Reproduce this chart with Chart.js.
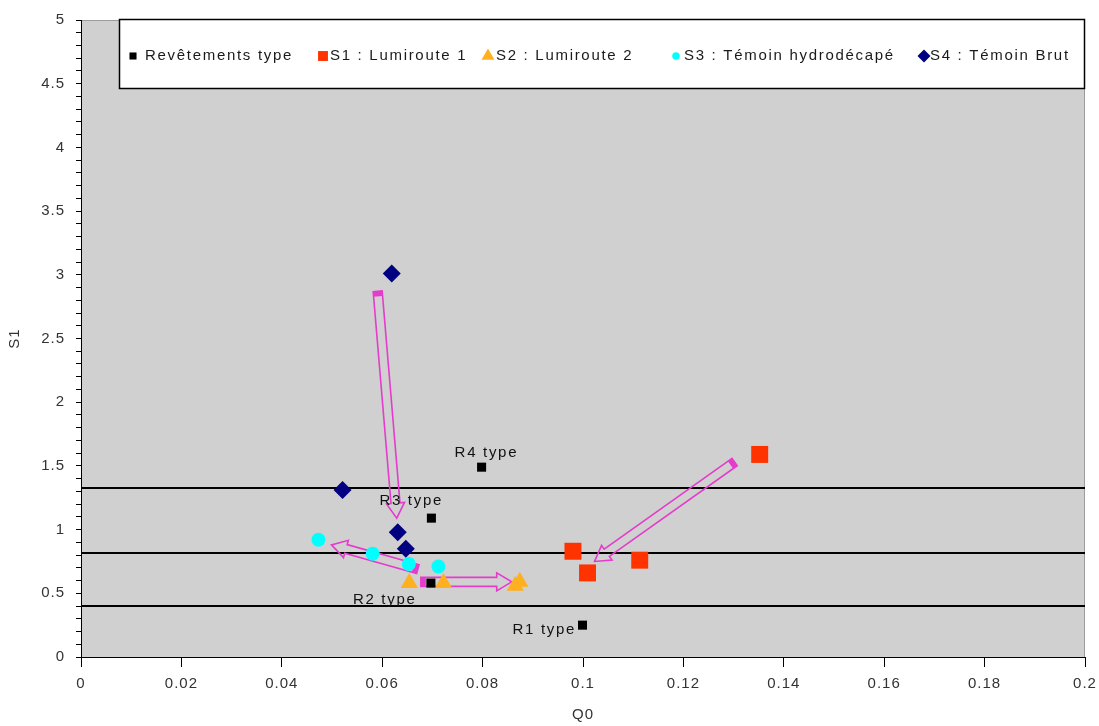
<!DOCTYPE html>
<html>
<head>
    <meta charset="UTF-8">
    <title>S1 / Q0</title>
    <script src="https://cdn.jsdelivr.net/npm/chart.js"></script>
    <style>
        html, body { margin: 0; padding: 0; background: #ffffff; }
        .chart-container { position: relative; width: 1099px; height: 726px; }
    </style>
</head>
<body>
    <div class="chart-container"><canvas id="s1Chart"></canvas></div>
    <script>
        // Revêtements type (reference surfaces)
        var typeNames = ['R1 type', 'R2 type', 'R3 type', 'R4 type'];
        var typeQ0 = [0.0999, 0.0697, 0.0698, 0.0798];
        var typeS1 = [0.25, 0.58, 1.09, 1.49];

        // S1 : Lumiroute 1
        var lum1Q0 = [0.1352, 0.0980, 0.1009, 0.1113];
        var lum1S1 = [1.59, 0.83, 0.66, 0.76];

        // S2 : Lumiroute 2
        var lum2Q0 = [0.0654, 0.0722, 0.0865, 0.0874];
        var lum2S1 = [0.58, 0.58, 0.56, 0.59];

        // S3 : Témoin hydrodécapé
        var hydroQ0 = [0.0473, 0.0581, 0.0653, 0.0712];
        var hydroS1 = [0.92, 0.81, 0.73, 0.71];

        // S4 : Témoin Brut
        var brutQ0 = [0.0619, 0.0521, 0.0631, 0.0647];
        var brutS1 = [3.01, 1.31, 0.98, 0.85];

        // class limits (horizontal lines)
        var limitsS1 = [0.40, 0.82, 1.33];

        // evolution arrows (from -> to)
        var arrowFromQ0 = [0.0591, 0.0671, 0.0677, 0.1302];
        var arrowFromS1 = [2.87, 0.69, 0.59, 1.53];
        var arrowToQ0 = [0.0629, 0.0499, 0.0858, 0.1023];
        var arrowToS1 = [1.09, 0.88, 0.59, 0.75];

        var xTickStep = 0.02;
        var yTickStep = 0.1;
        var yLabelStep = 0.5;

        function pairs(xs, ys) {
            return xs.map(function (x, i) { return { x: x, y: ys[i] }; });
        }

        var FONT = "'Liberation Sans', Arial, sans-serif";

        // plot background + letter spacing for the canvas texts
        var backdrop = {
            id: 'backdrop',
            beforeDraw: function (chart) {
                var ctx = chart.ctx, a = chart.chartArea;
                ctx.letterSpacing = '1px';
                ctx.save();
                ctx.fillStyle = '#d0d0d0';
                ctx.fillRect(a.left, a.top, a.right - a.left, a.bottom - a.top);
                ctx.strokeStyle = '#9c9c9c';
                ctx.lineWidth = 1;
                ctx.beginPath();
                ctx.moveTo(a.left, a.top + 0.5);
                ctx.lineTo(a.right - 0.5, a.top + 0.5);
                ctx.lineTo(a.right - 0.5, a.bottom);
                ctx.stroke();
                ctx.restore();
            }
        };

        function drawBlockArrow(ctx, x1, y1, x2, y2) {
            var dx = x2 - x1, dy = y2 - y1;
            var len = Math.sqrt(dx * dx + dy * dy);
            var ux = dx / len, uy = dy / len, nx = -uy, ny = ux;
            var sw = 4.5, hw = 9, hl = 15;
            var bx = x2 - ux * hl, by = y2 - uy * hl;
            var pts = [
                [x1 + nx * sw, y1 + ny * sw],
                [bx + nx * sw, by + ny * sw],
                [bx + nx * hw, by + ny * hw],
                [x2, y2],
                [bx - nx * hw, by - ny * hw],
                [bx - nx * sw, by - ny * sw],
                [x1 - nx * sw, y1 - ny * sw]
            ];
            ctx.beginPath();
            ctx.moveTo(pts[0][0], pts[0][1]);
            for (var i = 1; i < pts.length; i++) ctx.lineTo(pts[i][0], pts[i][1]);
            ctx.closePath();
            ctx.stroke();
            // small filled tail
            ctx.beginPath();
            ctx.moveTo(x1 + nx * sw, y1 + ny * sw);
            ctx.lineTo(x1 + nx * sw + ux * 5, y1 + ny * sw + uy * 5);
            ctx.lineTo(x1 - nx * sw + ux * 5, y1 - ny * sw + uy * 5);
            ctx.lineTo(x1 - nx * sw, y1 - ny * sw);
            ctx.closePath();
            ctx.fill();
        }

        // limit lines and arrows, under the points
        var underlay = {
            id: 'underlay',
            beforeDatasetsDraw: function (chart) {
                var ctx = chart.ctx, a = chart.chartArea;
                var xs = chart.scales.x, ys = chart.scales.y;
                ctx.save();
                ctx.strokeStyle = '#000000';
                ctx.lineWidth = 2;
                limitsS1.forEach(function (v) {
                    var py = Math.round(ys.getPixelForValue(v));
                    ctx.beginPath();
                    ctx.moveTo(a.left, py);
                    ctx.lineTo(a.right, py);
                    ctx.stroke();
                });
                ctx.strokeStyle = '#e43ccc';
                ctx.fillStyle = '#e43ccc';
                ctx.lineWidth = 1.6;
                for (var i = 0; i < arrowFromQ0.length; i++) {
                    drawBlockArrow(ctx,
                        xs.getPixelForValue(arrowFromQ0[i]), ys.getPixelForValue(arrowFromS1[i]),
                        xs.getPixelForValue(arrowToQ0[i]), ys.getPixelForValue(arrowToS1[i]));
                }
                ctx.restore();
            }
        };

        // "Rx type" labels and the boxed legend
        var labelOffsets = [[-70, 5], [-78, 17], [-52, -17], [-27, -14]];
        var legendMarkX = [14, 204, 369, 557, 805];
        var legendTextX = [26, 211, 377, 565, 811];
        var legendMarkR = [5, 7, 7.5, 3.8, 6.5];

        var overlay = {
            id: 'overlay',
            afterDatasetsDraw: function (chart) {
                var ctx = chart.ctx, a = chart.chartArea;
                var xs = chart.scales.x, ys = chart.scales.y;
                ctx.save();
                ctx.letterSpacing = '1.7px';
                ctx.font = '15px ' + FONT;
                ctx.fillStyle = '#111111';
                ctx.textBaseline = 'middle';
                ctx.textAlign = 'left';
                typeNames.forEach(function (name, i) {
                    var px = xs.getPixelForValue(typeQ0[i]);
                    var py = ys.getPixelForValue(typeS1[i]);
                    ctx.fillText(name, px + labelOffsets[i][0], py + labelOffsets[i][1]);
                });

                // legend box
                var left = a.left + 38, top = a.top - 1, right = a.right, height = 70;
                ctx.fillStyle = '#ffffff';
                ctx.fillRect(left, top, right - left, height);
                ctx.strokeStyle = '#000000';
                ctx.lineWidth = 1.5;
                ctx.strokeRect(left + 0.5, top + 0.5, right - left - 1, height - 1);
                var cy = top + 37;
                chart.data.datasets.forEach(function (ds, i) {
                    ctx.fillStyle = ds.backgroundColor;
                    ctx.strokeStyle = ds.backgroundColor;
                    Chart.helpers.drawPoint(ctx, {
                        pointStyle: ds.pointStyle, radius: legendMarkR[i], rotation: 0, borderWidth: 0
                    }, left + legendMarkX[i], cy);
                    ctx.fillStyle = '#1a1a1a';
                    ctx.fillText(ds.label, left + legendTextX[i], cy);
                });
                ctx.restore();
            }
        };

        var ctx = document.getElementById('s1Chart').getContext('2d');
        var s1Chart = new Chart(ctx, {
            type: 'scatter',
            data: {
                datasets: [{
                    label: 'Revêtements type',
                    data: pairs(typeQ0, typeS1),
                    pointStyle: 'rect',
                    pointRadius: 6.4,
                    backgroundColor: '#000000',
                    borderWidth: 0
                }, {
                    label: 'S1 : Lumiroute 1',
                    data: pairs(lum1Q0, lum1S1),
                    pointStyle: 'rect',
                    pointRadius: 12,
                    backgroundColor: '#ff3300',
                    borderWidth: 0
                }, {
                    label: 'S2 : Lumiroute 2',
                    data: pairs(lum2Q0, lum2S1),
                    pointStyle: 'triangle',
                    pointRadius: 10,
                    backgroundColor: '#ffb021',
                    borderWidth: 0
                }, {
                    label: 'S3 : Témoin hydrodécapé',
                    data: pairs(hydroQ0, hydroS1),
                    pointStyle: 'circle',
                    pointRadius: 7,
                    backgroundColor: '#00ffff',
                    borderWidth: 0
                }, {
                    label: 'S4 : Témoin Brut',
                    data: pairs(brutQ0, brutS1),
                    pointStyle: 'rectRot',
                    pointRadius: 9,
                    backgroundColor: '#000080',
                    borderWidth: 0
                }]
            },
            options: {
                responsive: true,
                maintainAspectRatio: false,
                animation: false,
                layout: { padding: { top: 18, right: 14, left: 0, bottom: 0 } },
                plugins: {
                    legend: { display: false },
                    tooltip: { enabled: false }
                },
                scales: {
                    x: {
                        type: 'linear',
                        min: 0,
                        max: 0.2,
                        afterFit: function (scale) {
                            scale.height = 69;
                            scale.paddingRight = 0;
                            scale.paddingLeft = 0;
                        },
                        ticks: {
                            stepSize: xTickStep,
                            padding: 8,
                            color: '#333333',
                            font: { family: FONT, size: 15 },
                            callback: function (v) { return String(Math.round(v * 100) / 100); }
                        },
                        grid: { drawOnChartArea: false, tickLength: 10, tickColor: '#000000' },
                        border: { display: true, color: '#000000', width: 1 },
                        title: {
                            display: true,
                            text: 'Q0',
                            color: '#333333',
                            font: { family: FONT, size: 15 },
                            padding: { top: 2, bottom: 2 }
                        }
                    },
                    y: {
                        min: 0,
                        max: 5,
                        afterFit: function (scale) { scale.width = 81; },
                        ticks: {
                            stepSize: yTickStep,
                            maxTicksLimit: 60,
                            autoSkip: false,
                            padding: 11,
                            color: '#333333',
                            font: { family: FONT, size: 15 },
                            callback: function (v) {
                                var t = Math.round(v * 10);
                                return t % Math.round(yLabelStep * 10) === 0 ? String(t / 10) : '';
                            }
                        },
                        grid: { drawOnChartArea: false, tickLength: 5, tickColor: '#000000' },
                        border: { display: true, color: '#000000', width: 1 },
                        title: {
                            display: true,
                            text: 'S1',
                            color: '#333333',
                            font: { family: FONT, size: 15 },
                            padding: { top: 6, bottom: 0 }
                        }
                    }
                }
            },
            plugins: [backdrop, underlay, overlay]
        });
    </script>
</body>
</html>
